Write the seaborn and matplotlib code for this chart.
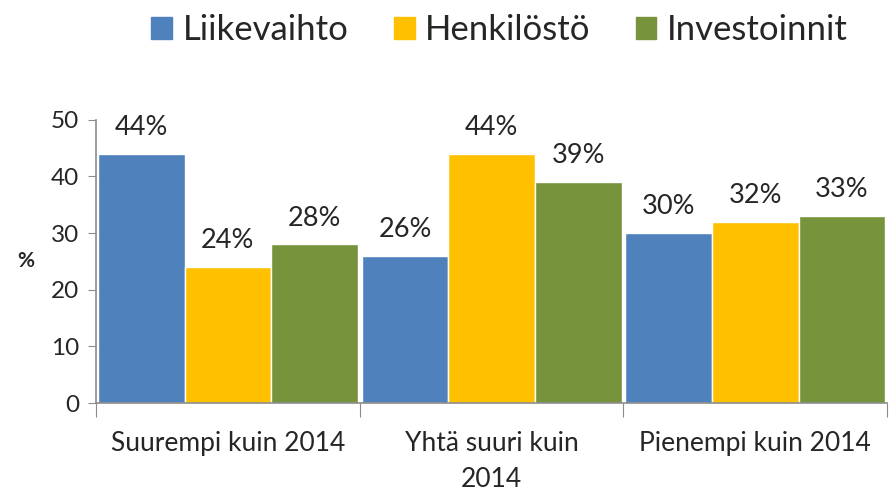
import matplotlib
matplotlib.use("Agg")
import matplotlib.pyplot as plt
import matplotlib.patches as mpatches
import pandas as pd
import seaborn as sns

categories = ["Suurempi kuin 2014", "Yhtä suuri kuin\n2014", "Pienempi kuin 2014"]
series = ["Liikevaihto", "Henkilöstö", "Investoinnit"]
liikevaihto = [44, 26, 30]
henkilosto = [24, 44, 32]
investoinnit = [28, 39, 33]
colors = ["#4F81BD", "#FFC000", "#77933C"]

df = pd.DataFrame({
    "kategoria": categories * 3,
    "sarja": [s for s in series for _ in categories],
    "arvo": liikevaihto + henkilosto + investoinnit,
})

sns.set_style("white")
plt.rcParams["font.family"] = ["Lato", "DejaVu Sans"]

fig = plt.figure(figsize=(8.89, 4.97), dpi=100)
ax = fig.add_axes([0.108, 0.189, 0.89, 0.570])

sns.barplot(data=df, x="kategoria", y="arvo", hue="sarja", order=categories,
            hue_order=series, palette=colors, width=0.985, saturation=1,
            legend=False, ax=ax)

# tekstit palkkien päälle
for cont in ax.containers:
    ax.bar_label(cont, fmt="%d%%", padding=10, fontsize=19.5)

ax.set_ylim(0, 50)
ax.set_xlim(-0.5, 2.5)
ax.set_yticks(range(0, 51, 10))
ax.tick_params(axis="y", labelsize=17.5, length=6, color="#8c8c8c", left=True, pad=6)

# ryhmien rajat pääjakoina, nimet sivujakoina
ax.set_xticks([-0.5, 0.5, 1.5, 2.5])
ax.set_xticklabels([])
ax.set_xticks([0, 1, 2], minor=True)
ax.set_xticklabels(categories, minor=True, fontsize=19, linespacing=1.55)
ax.tick_params(axis="x", which="major", length=10, color="#8c8c8c", bottom=True)
ax.tick_params(axis="x", which="minor", length=0, pad=20)

ax.set_xlabel("")
ax.set_ylabel("%", rotation=0, fontsize=15, fontweight="bold", labelpad=18, va="center")

for side in ["top", "right"]:
    ax.spines[side].set_visible(False)
for side in ["left", "bottom"]:
    ax.spines[side].set_color("#8c8c8c")
    ax.spines[side].set_linewidth(1.2)

handles = [mpatches.Patch(color=c, label=s) for s, c in zip(series, colors)]
fig.legend(handles=handles, loc="upper center", bbox_to_anchor=(0.562, 1.035), ncol=3,
           frameon=False, fontsize=25, handlelength=0.6, handleheight=0.6,
           handletextpad=0.3, columnspacing=1.3)

fig.savefig("out.png", dpi=100)
